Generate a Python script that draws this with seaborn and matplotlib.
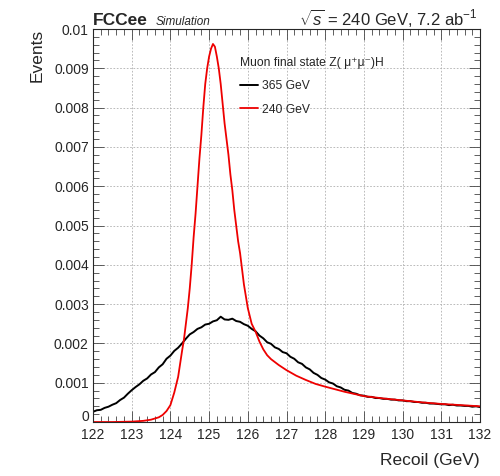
import numpy as np
import pandas as pd
import matplotlib
matplotlib.use("Agg")
import matplotlib.pyplot as plt
import seaborn as sns
from matplotlib.ticker import MultipleLocator, FuncFormatter

# recoil mass (GeV) and normalised events
recoil_365 = [122.0, 122.1, 122.2, 122.3, 122.4, 122.5, 122.6, 122.7, 122.8, 122.9,
              123.0, 123.1, 123.2, 123.3, 123.4, 123.5, 123.6, 123.7, 123.8, 123.9,
              124.0, 124.1, 124.2, 124.3, 124.4, 124.5, 124.6, 124.7, 124.8, 124.9,
              125.0, 125.1, 125.2, 125.3, 125.4, 125.5, 125.6, 125.7, 125.8, 125.9,
              126.0, 126.1, 126.2, 126.3, 126.4, 126.5, 126.6, 126.7, 126.8, 126.9,
              127.0, 127.1, 127.2, 127.3, 127.4, 127.5, 127.6, 127.7, 127.8, 127.9,
              128.0, 128.1, 128.2, 128.3, 128.4, 128.5, 128.6, 128.7, 128.8, 128.9,
              129.0, 129.1, 129.2, 129.3, 129.4, 129.5, 129.6, 129.7, 129.8, 129.9,
              130.0, 130.1, 130.2, 130.3, 130.4, 130.5, 130.6, 130.7, 130.8, 130.9,
              131.0, 131.1, 131.2, 131.3, 131.4, 131.5, 131.6, 131.7, 131.8, 131.9,
              132.0]
events_365 = [0.00026, 0.00030, 0.00031, 0.00036, 0.00039, 0.00044, 0.00048, 0.00056, 0.00062, 0.00072,
              0.00081, 0.00089, 0.00096, 0.00105, 0.00111, 0.00121, 0.00127, 0.00139, 0.00147, 0.00161,
              0.00169, 0.00181, 0.00189, 0.00200, 0.00212, 0.00223, 0.00229, 0.00237, 0.00241, 0.00248,
              0.00250, 0.00256, 0.00259, 0.00268, 0.00261, 0.00260, 0.00263, 0.00257, 0.00255, 0.00249,
              0.00245, 0.00237, 0.00231, 0.00220, 0.00213, 0.00203, 0.00199, 0.00190, 0.00186, 0.00178,
              0.00175, 0.00166, 0.00161, 0.00152, 0.00148, 0.00139, 0.00134, 0.00125, 0.00120, 0.00112,
              0.00108, 0.00101, 0.00098, 0.00091, 0.00088, 0.00082, 0.00080, 0.00074, 0.00072, 0.00068,
              0.00067, 0.00064, 0.00064, 0.00061, 0.00061, 0.00059, 0.00059, 0.00057, 0.00057, 0.00055,
              0.00055, 0.00053, 0.00053, 0.00051, 0.00051, 0.00049, 0.00049, 0.00047, 0.00047, 0.00046,
              0.00045, 0.00045, 0.00043, 0.00044, 0.00042, 0.00042, 0.00041, 0.00041, 0.00039, 0.00040,
              0.00038]

recoil_240 = [122.0, 122.5, 123.0, 123.3, 123.5, 123.7, 123.8, 123.9, 124.0, 124.1,
              124.2, 124.3, 124.35, 124.4, 124.45, 124.5, 124.55, 124.6, 124.65, 124.7,
              124.75, 124.8, 124.85, 124.9, 124.95, 125.0, 125.05, 125.1, 125.15, 125.2,
              125.25, 125.3, 125.35, 125.4, 125.45, 125.5, 125.55, 125.6, 125.65, 125.7,
              125.75, 125.8, 125.85, 125.9, 125.95, 126.0, 126.1, 126.2, 126.3, 126.4,
              126.5, 126.6, 126.8, 127.0, 127.25, 127.5, 127.75, 128.0, 128.5, 129.0,
              129.5, 130.0, 130.5, 131.0, 131.5, 132.0]
events_240 = [0.0, 0.0, 0.00001, 0.00003, 0.00006, 0.00012, 0.00018, 0.00028, 0.00043, 0.00075,
              0.00115, 0.00180, 0.00210, 0.00250, 0.00290, 0.00340, 0.00400, 0.00470, 0.00530, 0.00600,
              0.00670, 0.00730, 0.00800, 0.00860, 0.00900, 0.00930, 0.00950, 0.00962, 0.00955, 0.00930,
              0.00900, 0.00860, 0.00810, 0.00760, 0.00720, 0.00680, 0.00630, 0.00590, 0.00540, 0.00500,
              0.00460, 0.00430, 0.00390, 0.00350, 0.00320, 0.00290, 0.00250, 0.00230, 0.00205, 0.00185,
              0.00170, 0.00160, 0.00145, 0.00132, 0.00118, 0.00107, 0.00097, 0.00090, 0.00077, 0.00066,
              0.00060, 0.00055, 0.00050, 0.00046, 0.00043, 0.00040]

sns.set_style("ticks")
plt.rcParams["font.family"] = ["Liberation Sans", "DejaVu Sans"]
plt.rcParams["mathtext.fontset"] = "custom"
plt.rcParams["mathtext.rm"] = "Liberation Sans"
plt.rcParams["mathtext.it"] = "Liberation Sans:italic"

fig = plt.figure(figsize=(5.0, 4.76), dpi=100)
ax = fig.add_axes([0.186, 0.1134, 0.774, 0.8256])

sns.lineplot(x=recoil_365, y=events_365, color="black", lw=1.4, ax=ax, label="365 GeV")
sns.lineplot(x=recoil_240, y=events_240, color="#ee0000", lw=1.3, ax=ax, label="240 GeV")

ax.set_xlim(122, 132)
ax.set_ylim(0, 0.01)
ax.xaxis.set_major_locator(MultipleLocator(1))
ax.xaxis.set_minor_locator(MultipleLocator(0.2))
ax.yaxis.set_major_locator(MultipleLocator(0.001))
ax.yaxis.set_minor_locator(MultipleLocator(0.0002))
# the "0" is drawn separately, sitting on the axis so it clears "122"
ax.yaxis.set_major_formatter(FuncFormatter(lambda v, p: "" if v == 0 else f"{v:g}"))
ax.tick_params(which="both", direction="in", top=True, right=True, labelsize=10, width=0.6, color="#444444")
ax.tick_params(which="major", length=8, pad=3)
ax.tick_params(axis="x", which="major", pad=4)
ax.tick_params(which="minor", length=4)
ax.grid(True, which="major", color="#b0b0b0", linestyle=(0, (2, 2)), linewidth=0.6)
for s in ax.spines.values():
    s.set_linewidth(0.8)
ax.annotate("0", xy=(0, 0), xycoords="axes fraction", xytext=(-2.5, 0.5),
            textcoords="offset points", ha="right", va="baseline", fontsize=10)

ax.set_xlabel("Recoil (GeV)", loc="right", fontsize=12.5, labelpad=8)
ax.set_ylabel("Events", loc="top", fontsize=12.5, labelpad=7)

ax.text(0.0, 1.01, "FCCee", transform=ax.transAxes, fontsize=12.5, fontweight="bold", va="baseline")
ax.text(0.163, 1.01, "Simulation", transform=ax.transAxes, fontsize=8.5, style="italic", va="baseline")
ax.text(0.995, 1.01, r"$\sqrt{s}$ = 240 GeV, 7.2 ab$^{-1}$", transform=ax.transAxes,
        fontsize=12, ha="right", va="baseline")

leg = ax.legend(title="Muon final state Z( μ⁺μ⁻)H", loc="upper left",
                bbox_to_anchor=(0.38, 0.93), frameon=False, fontsize=8.7, title_fontsize=8.7,
                borderpad=0, borderaxespad=0, handlelength=1.5, handletextpad=0.3,
                labelspacing=0.95, alignment="left")

plt.savefig("out.png", dpi=100)
plt.close()
